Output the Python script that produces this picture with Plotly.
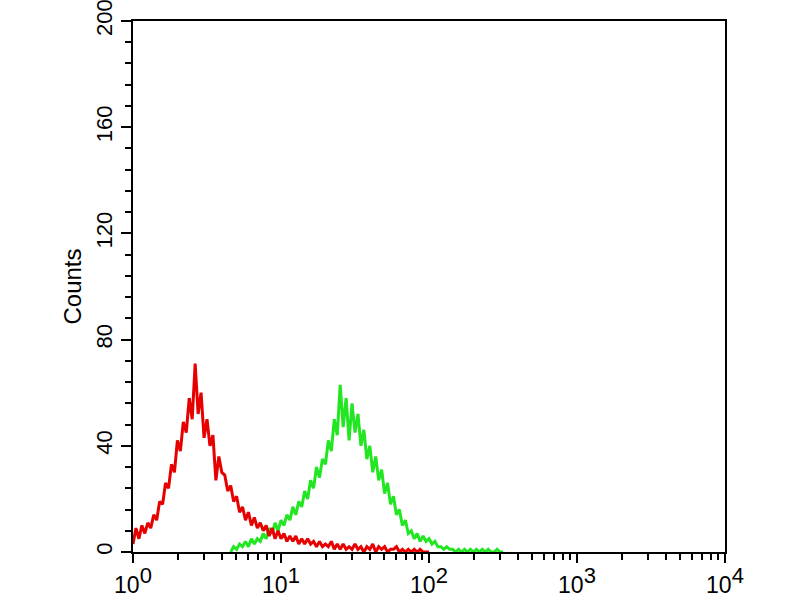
"""
Flow cytometry histogram: counts vs fluorescence intensity (log scale)
- red: negative control
- green: antibody stained
"""
import numpy as np
import plotly.graph_objects as go

# histogram bins, log10 of fluorescence, step 0.02
red_start = 0.00
green_start = 0.66
bin_step = 0.02

# counts, one per bin
red_counts = [
    3, 9, 5, 10, 7, 11, 9, 14, 12, 19,
    18, 26, 24, 33, 30, 42, 38, 49, 45, 58,
    50, 71, 52, 60, 43, 50, 40, 44, 27, 36,
    30, 29, 23, 25, 19, 21, 15, 17, 12, 15,
    10, 13, 9, 11, 8, 10, 6, 9, 5, 8,
    5, 7, 4, 6, 4, 6, 3, 5, 3, 5,
    3, 4, 2, 4, 2, 3, 2, 4, 1, 3,
    1, 3, 1, 2, 1, 3, 1, 2, 0, 2,
    1, 3, 0, 2, 1, 2, 0, 1, 1, 2,
    0, 1, 0, 1, 0, 1, 0, 1, 0, 0,
    0,
]
green_counts = [
    0, 2, 1, 3, 2, 4, 2, 5, 3, 5,
    4, 7, 5, 9, 7, 11, 8, 12, 10, 14,
    12, 17, 14, 19, 17, 23, 20, 27, 24, 32,
    28, 35, 33, 42, 38, 50, 44, 63, 47, 58,
    42, 56, 45, 52, 40, 46, 35, 40, 30, 36,
    27, 31, 22, 26, 18, 21, 14, 16, 10, 12,
    7, 8, 5, 7, 4, 6, 4, 5, 3, 4,
    2, 2, 1, 2, 1, 1, 0, 1, 0, 1,
    0, 1, 0, 1, 0, 1, 0, 1, 0, 0,
    1, 0, 0,
]

x_tick_values = [1, 10, 100, 1000, 10000]
x_tick_powers = ["0", "1", "2", "3", "4"]
y_tick_values = [0, 40, 80, 120, 160, 200]

red_x = 10 ** (red_start + bin_step * np.arange(len(red_counts)))
green_x = 10 ** (green_start + bin_step * np.arange(len(green_counts)))

# minor ticks 2..9 in each decade
x_minor = [m * 10 ** d for d in range(4) for m in range(2, 10)]

# exponent drawn at full size, as in the original
x_tick_labels = [
    f"10<sup><span style='font-size:22px'>{p}</span></sup>" for p in x_tick_powers
]

fig = go.Figure()

fig.add_trace(
    go.Scatter(
        x=green_x,
        y=green_counts,
        mode="lines",
        line=dict(color="#22e622", width=3),
        showlegend=False,
    )
)
fig.add_trace(
    go.Scatter(
        x=red_x,
        y=red_counts,
        mode="lines",
        line=dict(color="#e60000", width=3),
        showlegend=False,
    )
)

fig.update_layout(
    width=800,
    height=600,
    margin=dict(l=133, r=75, t=21, b=48),
    paper_bgcolor="white",
    plot_bgcolor="white",
    font=dict(family="Liberation Sans, Arial, sans-serif", color="black"),
)

fig.update_xaxes(
    type="log",
    range=[0, 4],
    automargin=False,
    tickmode="array",
    tickvals=x_tick_values,
    ticktext=x_tick_labels,
    ticks="outside",
    ticklen=9,
    tickwidth=2,
    tickcolor="black",
    tickfont=dict(size=23),
    ticklabelstandoff=2,
    ticklabeloverflow="allow",
    minor=dict(tickmode="array", tickvals=x_minor, ticks="outside", ticklen=6, tickwidth=2, tickcolor="black"),
    showline=True,
    linecolor="black",
    linewidth=2,
    mirror=True,
    showgrid=False,
    zeroline=False,
)

fig.update_yaxes(
    range=[0, 200],
    automargin=False,
    tickmode="array",
    tickvals=y_tick_values,
    ticks="outside",
    ticklen=10,
    tickwidth=2,
    tickcolor="black",
    tickangle=-90,
    tickfont=dict(size=22),
    ticklabeloverflow="allow",
    minor=dict(dtick=8, ticks="outside", ticklen=6, tickwidth=2, tickcolor="black"),
    title=dict(text="Counts", font=dict(size=24), standoff=4),
    showline=True,
    linecolor="black",
    linewidth=2,
    mirror=True,
    showgrid=False,
    zeroline=False,
)

# the page's default body margin would shift the figure by 8px
fig.write_html(
    "out.html",
    config={"displayModeBar": False},
    post_script="document.body.style.margin = '0px';",
)
